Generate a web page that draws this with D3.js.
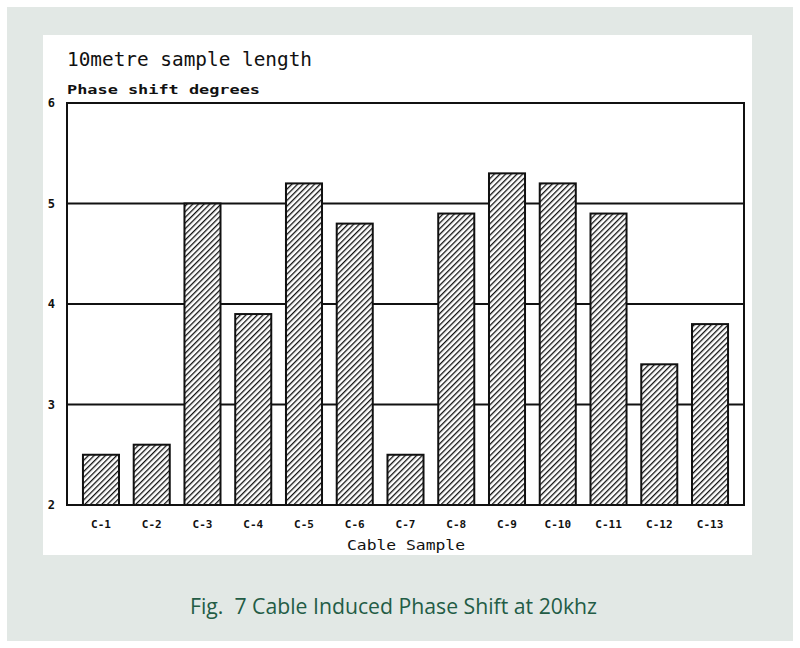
<!DOCTYPE html>
<html>
<head>
<meta charset="utf-8">
<script src="https://cdn.jsdelivr.net/npm/d3@7"></script>
<style>
  html, body { margin: 0; padding: 0; background: #ffffff; }
  svg { display: block; }
</style>
</head>
<body>
<svg id="chart" width="800" height="648"></svg>
<script>
const categories = ["C-1","C-2","C-3","C-4","C-5","C-6","C-7","C-8","C-9","C-10","C-11","C-12","C-13"];
const phaseShift = [2.5, 2.6, 5.0, 3.9, 5.2, 4.8, 2.5, 4.9, 5.3, 5.2, 4.9, 3.4, 3.8];
const yTicks = [2, 3, 4, 5, 6];
const gridValues = [3, 4, 5];
const titleText = "10metre sample length";
const yAxisTitle = "Phase shift degrees";
const xAxisTitle = "Cable Sample";
const captionText = "Fig.  7 Cable Induced Phase Shift at 20khz";

const svg = d3.select("#chart");
const plotFont = "'DejaVu Sans Mono', monospace";

// backgrounds
svg.append("rect").attr("x", 7).attr("y", 7).attr("width", 786).attr("height", 634).attr("fill", "#e2e8e5");
svg.append("rect").attr("x", 43).attr("y", 35).attr("width", 709).attr("height", 520).attr("fill", "#ffffff");

// hatch pattern
const defs = svg.append("defs");
const pat = defs.append("pattern").attr("id", "hatch").attr("patternUnits", "userSpaceOnUse")
  .attr("width", 4).attr("height", 4).attr("patternTransform", "rotate(45)");
pat.append("rect").attr("width", 4).attr("height", 4).attr("fill", "#ffffff");
pat.append("line").attr("x1", 0).attr("y1", 0).attr("x2", 0).attr("y2", 4)
  .attr("stroke", "#111").attr("stroke-width", 2.6);

const plot = {left: 67, right: 744, top: 103, bottom: 505};

const x = d3.scaleBand().domain(categories).range([75.6, 735.4]).paddingInner(0.29).paddingOuter(0.145);
const y = d3.scaleLinear().domain([2, 6]).range([plot.bottom, plot.top]);

// gridlines
svg.append("g").selectAll("line").data(gridValues).join("line")
  .attr("x1", plot.left).attr("x2", plot.right)
  .attr("y1", d => y(d)).attr("y2", d => y(d))
  .attr("stroke", "#111").attr("stroke-width", 2);

// bars
svg.append("g").selectAll("rect").data(phaseShift).join("rect")
  .attr("x", (d, i) => x(categories[i]))
  .attr("y", d => y(d))
  .attr("width", x.bandwidth())
  .attr("height", d => y(2) - y(d))
  .attr("fill", "url(#hatch)")
  .attr("stroke", "#111").attr("stroke-width", 2);

// frame
svg.append("rect").attr("x", plot.left).attr("y", plot.top)
  .attr("width", plot.right - plot.left).attr("height", plot.bottom - plot.top)
  .attr("fill", "none").attr("stroke", "#111").attr("stroke-width", 2);

// y axis labels
const yAxis = d3.axisLeft(y).tickValues(yTicks).tickSize(0).tickPadding(12).tickFormat(d3.format("d"));
const gy = svg.append("g").attr("transform", `translate(${plot.left},0)`).call(yAxis);
gy.select(".domain").remove();
gy.selectAll("text").attr("font-family", plotFont).attr("font-size", 12).attr("font-weight", "bold").attr("fill", "#111");

// x axis labels
const xAxis = d3.axisBottom(x).tickSize(0).tickPadding(15);
const gx = svg.append("g").attr("transform", `translate(0,${plot.bottom})`).call(xAxis);
gx.select(".domain").remove();
gx.selectAll("text").attr("font-family", plotFont).attr("font-size", 11).attr("font-weight", "bold").attr("fill", "#111");

// titles
svg.append("text").attr("x", 67).attr("y", 66).text(titleText)
  .attr("font-family", plotFont).attr("font-size", 19).attr("fill", "#111")
  .attr("textLength", 245).attr("lengthAdjust", "spacingAndGlyphs");
svg.append("text").attr("x", 67).attr("y", 94).text(yAxisTitle)
  .attr("font-family", plotFont).attr("font-size", 12).attr("font-weight", "bold").attr("fill", "#111")
  .attr("textLength", 193).attr("lengthAdjust", "spacingAndGlyphs");
svg.append("text").attr("x", 347).attr("y", 550).text(xAxisTitle)
  .attr("font-family", plotFont).attr("font-size", 14).attr("fill", "#111")
  .attr("textLength", 118).attr("lengthAdjust", "spacingAndGlyphs");

// caption
svg.append("text").attr("x", 190).attr("y", 614).text(captionText)
  .attr("font-family", "'Open Sans', 'Noto Sans', sans-serif").attr("font-size", 21).attr("fill", "#235c45")
  .attr("textLength", 407).attr("lengthAdjust", "spacingAndGlyphs")
  .attr("xml:space", "preserve").style("white-space", "pre");
</script>
</body>
</html>
